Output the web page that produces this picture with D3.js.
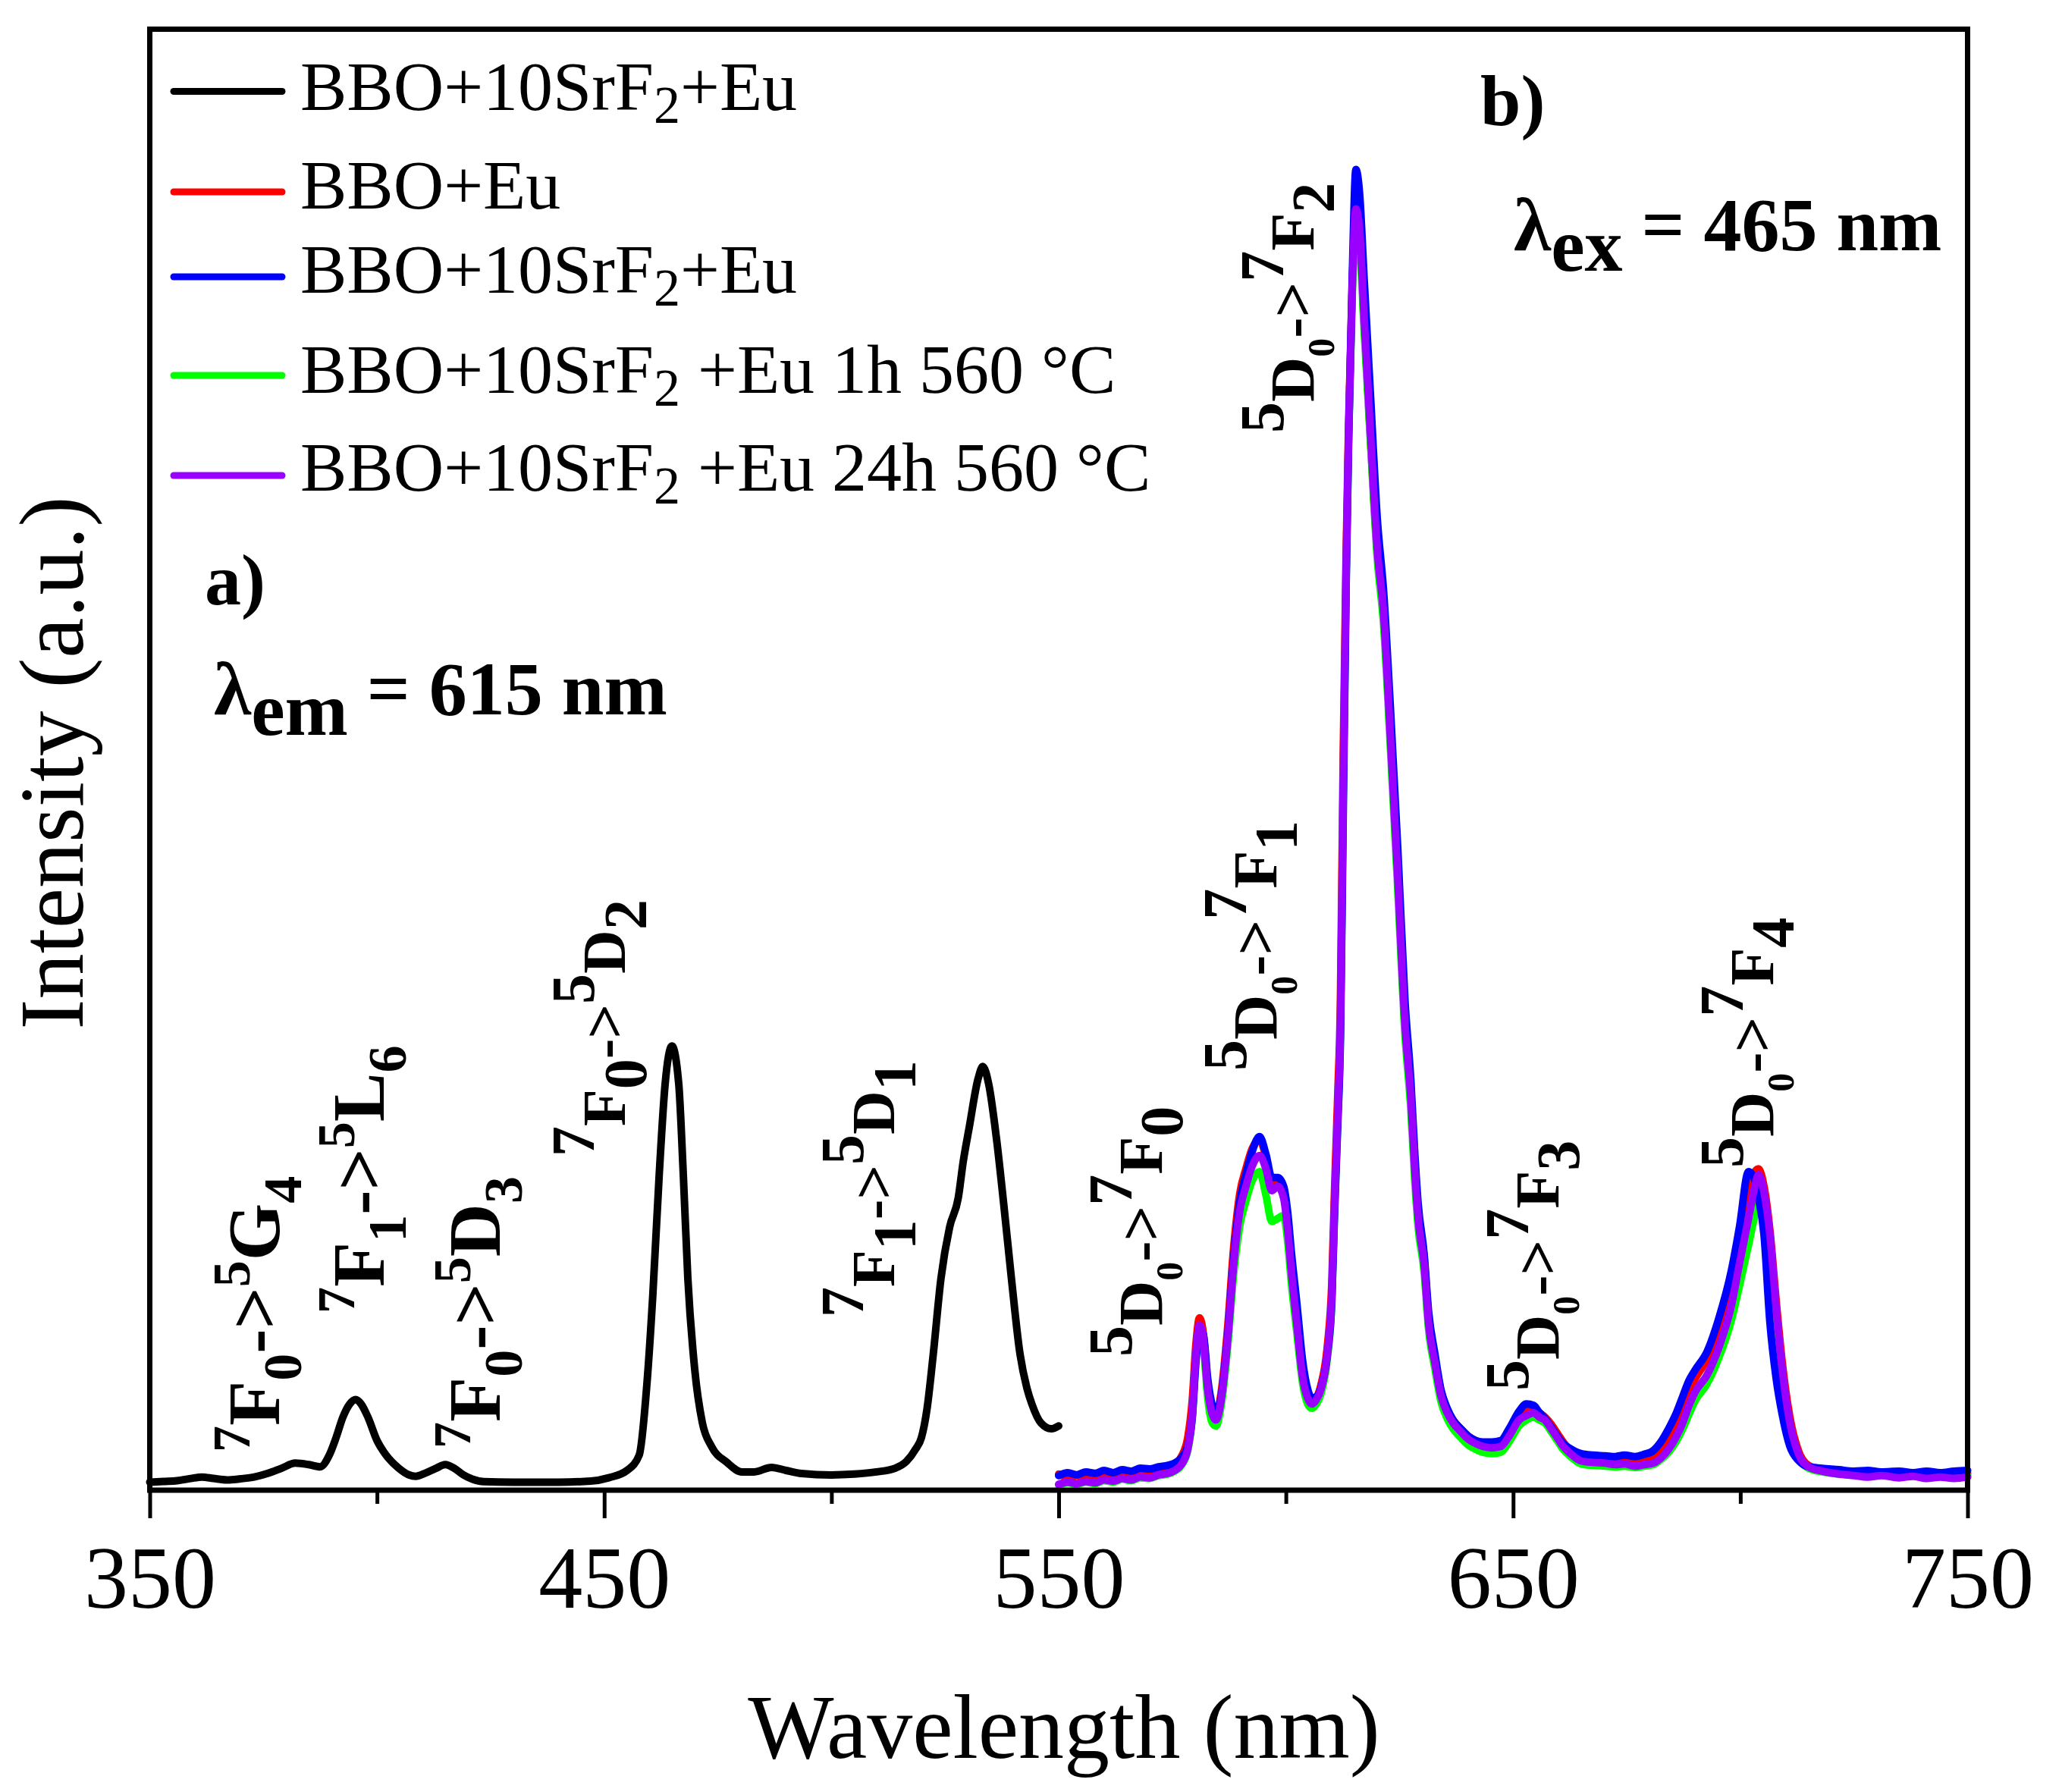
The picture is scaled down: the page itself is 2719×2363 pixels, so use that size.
<!DOCTYPE html>
<html><head><meta charset="utf-8">
<script src="https://cdn.jsdelivr.net/npm/d3@7"></script>
<style>html,body{margin:0;padding:0;background:#fff}svg{display:block}</style>
</head><body><div id="chart"></div>
<script>
// ---------- data ----------
const xTicks = [350, 450, 550, 650, 750];
const xMinor = [400, 500, 600, 700];

// excitation spectrum (lambda_em = 615 nm)
const exWl = [350, 353, 356, 359, 361.5, 364, 367, 370, 373, 376,
  379, 382, 385, 387.5, 389.5, 391, 392.5, 394, 395.3, 396.5,
  398, 400, 402, 404.8, 407, 408.5, 410.5, 413, 415, 417,
  419, 421, 423.5, 430, 440, 447, 451, 455, 457.7, 459.4,
  460.7, 462.1, 463.4, 464.9, 466.4, 467.4, 468.4, 469.9, 471.6, 473.6,
  477, 480.3, 483, 486.8, 490, 493.4, 499.9, 505, 509.9, 514,
  516.5, 518.5, 519.8, 521, 522.4, 524.1, 526, 527.9, 529, 530.3,
  532.3, 533.3, 534.6, 536.3, 537.9, 539.6, 541.5, 543, 544.1, 546.1,
  548.4, 550];
const exBlack = [0.55, 0.6, 0.65, 0.8, 0.9, 0.8, 0.7, 0.78, 0.9, 1.15,
  1.5, 1.85, 1.75, 1.6, 2.4, 3.6, 5.0, 5.9, 6.2, 5.9,
  5.0, 3.4, 2.4, 1.5, 1.05, 0.95, 1.15, 1.5, 1.75, 1.5,
  1.05, 0.75, 0.58, 0.55, 0.55, 0.62, 0.85, 1.35, 2.4, 7.3,
  13.4, 21.6, 27.8, 30.4, 27.8, 21.6, 14.5, 8.3, 4.6, 3.0,
  1.9, 1.25, 1.25, 1.56, 1.35, 1.14, 1.04, 1.1, 1.25, 1.5,
  1.97, 2.8, 3.6, 5.5, 9.3, 14.5, 18.0, 20.0, 22.5, 24.8,
  28.2, 29.0, 27.8, 24.1, 19.6, 14.5, 9.3, 7.0, 5.9, 4.6,
  4.2, 4.4];

// emission spectra (lambda_ex = 465 nm)
const emWl = [550, 552, 554, 556, 558, 560, 562, 564, 566, 568,
  570, 572, 574, 575.5, 577, 578.4, 579.4, 580.2, 581, 581.8,
  582.8, 583.8, 584.6, 585.8, 587.2, 588.5, 589.9, 591.2, 592.6, 594.2,
  595.6, 596.9, 598.2, 599.5, 600.4, 601.2, 602.4, 603.7, 604.8, 605.7,
  606.7, 607.7, 609.1, 610.1, 610.7, 611.4, 612.0, 612.6, 613.25, 613.8,
  614.6, 615.4, 616.2, 617.2, 618.6, 620.1, 621.5, 623.0, 624.6, 626.2,
  627.5, 628.4, 629.1, 630.4, 631.4, 632.8, 634.1, 635.5, 636.8, 638.5,
  640.1, 641.7, 643.3, 645.3, 647.3, 649.3, 651.3, 652.9, 654.5, 655.8,
  657.0, 658.4, 659.7, 661.0, 662.3, 665.0, 667.5, 670.3, 672.5, 674.5,
  676.8, 678.8, 680.8, 682.5, 684.2, 685.8, 687.3, 688.7, 690.0, 692.7,
  695.3, 698.0, 699.8, 701.8, 703.2, 704.0, 705.2, 706.5, 707.9, 709.2,
  710.9, 712.9, 715.0, 718, 721.7, 725, 728, 731, 734.9, 738,
  741, 744, 747, 750];
const emRed = [1.1, 0.9, 1.0, 0.85, 1.0, 0.95, 1.1, 1.0, 1.15, 1.2,
  1.25, 1.4, 1.5, 1.7, 2.3, 3.6, 6.2, 10.0, 11.8, 10.8,
  7.3, 5.5, 5.1, 6.8, 11.2, 16.6, 20.4, 22.0, 23.4, 24.0,
  22.8, 21.0, 21.2, 20.4, 18.3, 15.6, 12.0, 8.2, 6.5, 6.0,
  6.3, 7.2, 9.8, 14.2, 20.5, 27.0, 33.5, 50.0, 64.0, 73.0,
  82.5, 87.2, 86.0, 80.0, 72.0, 64.2, 59.8, 51.5, 42.2, 32.3,
  27.2, 22.2, 19.0, 16.0, 11.8, 9.0, 6.8, 5.5, 4.8, 4.2,
  3.7, 3.4, 3.2, 3.1, 3.2, 3.9, 5.0, 5.5, 5.6, 5.3,
  5.0, 4.5, 3.9, 3.3, 2.8, 2.3, 2.1, 2.05, 2.0, 2.05,
  1.95, 2.1, 2.3, 2.7, 3.5, 4.5, 5.6, 6.8, 7.6, 9.0,
  11.2, 14.2, 17.2, 20.2, 21.8, 22.0, 20.8, 17.8, 12.9, 8.8,
  5.0, 2.6, 1.7, 1.4, 1.25, 1.15, 1.1, 1.2, 1.05, 1.15,
  1.0, 1.1, 1.05, 1.15];
const emBlue = [1.0, 1.2, 1.05, 1.25, 1.15, 1.35, 1.2, 1.4, 1.3, 1.5,
  1.45, 1.6, 1.7, 1.85, 2.2, 3.0, 5.0, 8.8, 10.9, 10.7,
  7.6, 5.8, 5.3, 6.5, 10.6, 15.8, 19.8, 21.6, 23.2, 24.2,
  23.0, 21.4, 21.4, 20.8, 19.0, 16.3, 12.8, 8.8, 6.9, 6.3,
  6.4, 7.0, 9.2, 13.0, 19.0, 25.0, 31.0, 46.0, 62.0, 72.0,
  83.0, 90.4, 88.8, 83.0, 75.0, 66.5, 61.5, 53.5, 44.0, 33.5,
  28.0, 22.8, 19.6, 16.2, 12.2, 9.3, 6.9, 5.6, 4.8, 4.2,
  3.7, 3.4, 3.3, 3.3, 3.4, 4.3, 5.4, 5.9, 5.8, 5.3,
  4.9, 4.3, 3.7, 3.2, 2.9, 2.5, 2.4, 2.35, 2.3, 2.4,
  2.3, 2.45, 2.7, 3.3, 4.2, 5.2, 6.4, 7.5, 8.2, 9.5,
  11.8, 15.0, 18.0, 21.8, 21.2, 20.0, 17.5, 11.5, 7.6, 5.2,
  3.0, 2.0, 1.6, 1.5, 1.4, 1.3, 1.35, 1.25, 1.3, 1.2,
  1.3, 1.2, 1.3, 1.35];
const emGreen = [0.35, 0.5, 0.4, 0.55, 0.45, 0.65, 0.55, 0.75, 0.65, 0.85,
  0.8, 1.0, 1.1, 1.3, 1.7, 2.7, 5.0, 9.0, 10.9, 10.0,
  6.3, 4.6, 4.4, 5.9, 9.9, 14.8, 18.2, 19.8, 21.2, 21.8,
  20.2, 18.4, 18.6, 18.8, 17.0, 14.2, 10.8, 7.3, 5.9, 5.6,
  5.9, 6.6, 9.0, 13.0, 19.2, 25.3, 31.5, 47.5, 62.5, 72.0,
  81.8, 86.8, 85.5, 79.5, 71.8, 63.8, 59.2, 50.8, 41.2, 31.2,
  26.0, 21.0, 18.0, 15.0, 11.0, 8.3, 6.1, 4.9, 4.2, 3.6,
  3.1, 2.8, 2.6, 2.5, 2.6, 3.4, 4.4, 4.8, 5.0, 4.8,
  4.6, 4.0, 3.4, 2.8, 2.4, 1.8, 1.7, 1.65, 1.6, 1.65,
  1.55, 1.65, 1.75, 2.1, 2.6, 3.3, 4.2, 5.2, 6.1, 7.3,
  9.1, 11.6, 14.0, 16.8, 18.8, 19.6, 19.2, 16.8, 12.0, 8.0,
  4.4, 2.3, 1.5, 1.25, 1.1, 1.05, 0.95, 1.05, 0.95, 1.0,
  0.95, 1.0, 0.9, 1.0];
const emPurple = [0.40, 0.55, 0.45, 0.60, 0.50, 0.72, 0.62, 0.80, 0.70, 0.92,
  0.85, 1.05, 1.15, 1.35, 1.75, 2.8, 5.2, 9.3, 11.3, 10.4,
  6.9, 5.2, 4.8, 6.3, 10.4, 15.5, 19.2, 20.8, 22.2, 22.9,
  22.0, 20.5, 20.8, 20.0, 17.8, 15.0, 11.4, 7.7, 6.3, 5.9,
  6.2, 6.9, 9.3, 13.4, 19.6, 25.7, 31.9, 48.0, 63.0, 72.4,
  82.3, 87.7, 86.3, 80.3, 72.4, 64.4, 60.0, 51.5, 42.0, 31.9,
  26.8, 21.7, 18.6, 15.5, 11.4, 8.7, 6.5, 5.3, 4.6, 4.0,
  3.5, 3.2, 3.0, 2.9, 3.0, 3.8, 4.8, 5.1, 5.3, 5.0,
  4.8, 4.2, 3.6, 3.0, 2.6, 2.0, 1.9, 1.85, 1.75, 1.8,
  1.65, 1.75, 1.85, 2.2, 2.8, 3.6, 4.6, 5.8, 6.7, 7.9,
  9.8, 12.6, 15.5, 18.6, 20.8, 21.6, 20.4, 17.5, 12.4, 8.3,
  4.6, 2.4, 1.6, 1.3, 1.1, 1.0, 0.9, 1.0, 0.85, 0.95,
  0.8, 0.9, 0.8, 0.9];

const seriesNames = ["BBO+10SrF2+Eu", "BBO+Eu", "BBO+10SrF2+Eu", "BBO+10SrF2 +Eu 1h 560 °C", "BBO+10SrF2 +Eu 24h 560 °C"];
const seriesColors = ["#000000", "#ff0000", "#0000ff", "#00ff00", "#9900ff"];

// transition labels: [superscript, letter, subscript, superscript, letter, subscript]
const exLabels = [["7","F","0","5","G","4"], ["7","F","1","5","L","6"], ["7","F","0","5","D","3"], ["7","F","0","5","D","2"], ["7","F","1","5","D","1"]];
const emLabels = [["5","D","0","7","F","0"], ["5","D","0","7","F","1"], ["5","D","0","7","F","2"], ["5","D","0","7","F","3"], ["5","D","0","7","F","4"]];

// ---------- drawing ----------
const W = 2719, H = 2363;
const SERIF = "'Liberation Serif','Times New Roman',serif";
const svg = d3.select("#chart").append("svg").attr("width", W).attr("height", H)
  .attr("viewBox", `0 0 ${W} ${H}`);
svg.append("rect").attr("width", W).attr("height", H).attr("fill", "#fff");

const L = 197.5, R = 2594.5, T = 38.5, B = 1965;
const x = d3.scaleLinear().domain([350, 750]).range([L, R]);
const y = d3.scaleLinear().domain([0, 100]).range([B, T]);

// axes
const axMaj = svg.append("g").attr("transform", `translate(0,${B})`)
  .call(d3.axisBottom(x).tickValues(xTicks).tickSize(37).tickPadding(36).tickFormat(d3.format("d")));
axMaj.select(".domain").remove();
axMaj.selectAll(".tick line").attr("stroke", "#000").attr("stroke-width", 5);
axMaj.selectAll(".tick text").attr("font-family", SERIF).attr("font-size", 116).attr("fill", "#000");
const axMin = svg.append("g").attr("transform", `translate(0,${B})`)
  .call(d3.axisBottom(x).tickValues(xMinor).tickSize(18).tickFormat(""));
axMin.select(".domain").remove();
axMin.selectAll(".tick line").attr("stroke", "#000").attr("stroke-width", 5);

// curves
const line = d3.line().x(d => x(d[0])).y(d => y(d[1])).curve(d3.curveMonotoneX);
function draw(wl, vals, color) {
  const n = Math.min(wl.length, vals.length);
  const pts = d3.range(n).map(i => [wl[i], vals[i]]);
  svg.append("path").datum(pts).attr("d", line).attr("fill", "none")
    .attr("stroke", color).attr("stroke-width", 10).attr("stroke-linejoin", "round").attr("stroke-linecap", "round");
}
draw(exWl, exBlack, seriesColors[0]);
draw(emWl, emRed, seriesColors[1]);
draw(emWl, emGreen, seriesColors[3]);
draw(emWl, emBlue, seriesColors[2]);
draw(emWl, emPurple, seriesColors[4]);

// frame
svg.append("rect").attr("x", L).attr("y", T).attr("width", R - L).attr("height", B - T)
  .attr("fill", "none").attr("stroke", "#000").attr("stroke-width", 7);

// rich text helper: parts = [[text, size, shift]]
function rich(g, parts, weight) {
  const t = g.append("text").attr("font-family", SERIF).attr("font-weight", weight || "normal").attr("fill", "#000");
  let prev = 0;
  parts.forEach(p => {
    t.append("tspan").attr("font-size", p[1]).attr("dy", p[2] - prev).text(p[0]);
    prev = p[2];
  });
  return t;
}

// legend
const legLineY = [120.5, 253, 365, 495, 627];
const legTextY = [145, 274.5, 386, 518, 647];
seriesNames.forEach((name, i) => {
  svg.append("line").attr("x1", 229).attr("x2", 372).attr("y1", legLineY[i]).attr("y2", legLineY[i])
    .attr("stroke", seriesColors[i]).attr("stroke-width", 9).attr("stroke-linecap", "round");
  const g = svg.append("g").attr("transform", `translate(396,${legTextY[i]})`);
  const k = name.indexOf("2");
  let parts;
  if (name.indexOf("SrF2") >= 0) {
    parts = [[name.slice(0, k), 92, 0], ["2", 70, 17], [name.slice(k + 1), 92, 0]];
  } else parts = [[name, 92, 0]];
  rich(g, parts);
});

// axis titles
svg.append("text").attr("x", 1403).attr("y", 2318).attr("text-anchor", "middle")
  .attr("font-family", SERIF).attr("font-size", 120).text("Wavelength (nm)");
svg.append("text").attr("transform", "translate(109,1006) rotate(-90)").attr("text-anchor", "middle")
  .attr("font-family", SERIF).attr("font-size", 120).text("Intensity (a.u.)");

// panel tags
svg.append("text").attr("x", 270).attr("y", 797).attr("font-family", SERIF).attr("font-weight", "bold")
  .attr("font-size", 96).text("a)");
svg.append("text").attr("x", 1952).attr("y", 165).attr("font-family", SERIF).attr("font-weight", "bold")
  .attr("font-size", 96).text("b)");
rich(svg.append("g").attr("transform", "translate(282,942)"),
  [["λ", 100, 0], ["em", 100, 27], [" = 615 nm", 100, 0]], "bold");
rich(svg.append("g").attr("transform", "translate(1996,330)"),
  [["λ", 100, 0], ["ex", 100, 27], [" = 465 nm", 100, 0]], "bold");

// transition labels (rotated)
const exPos = [[368, 1915], [506, 1732], [659, 1910], [824, 1525], [1179, 1737]];
exLabels.forEach((lab, i) => {
  const g = svg.append("g").attr("transform", `translate(${exPos[i][0]},${exPos[i][1]}) rotate(-90)`);
  let parts;
  if (i < 3) {
    parts = [[lab[0], 70, -39], [lab[1], 97, 0], [lab[2], 72, 29], ["->", 97, 0], [lab[3], 70, -39], [lab[4], 97, 0], [lab[5], 72, 29]];
  } else {
    parts = [[lab[0], 80, -41], [lab[1], 80, 0], [lab[2], 80, 28], ["->", 80, 0], [lab[3], 80, -41], [lab[4], 80, 0], [lab[5], 80, 28]];
  }
  rich(g, parts, "bold");
});
const emPos = [[1532, 1789], [1683, 1412], [1732, 571], [2055, 1834], [2338, 1540]];
emLabels.forEach((lab, i) => {
  const g = svg.append("g").attr("transform", `translate(${emPos[i][0]},${emPos[i][1]}) rotate(-90)`);
  const parts = [[lab[0], 82, -40], [lab[1], 82, 0], [lab[2], 50, 27], ["->", 82, 0], [lab[3], 82, -40], [lab[4], 82, 0], [lab[5], 80, 27]];
  rich(g, parts, "bold");
});
</script>
</body></html>
